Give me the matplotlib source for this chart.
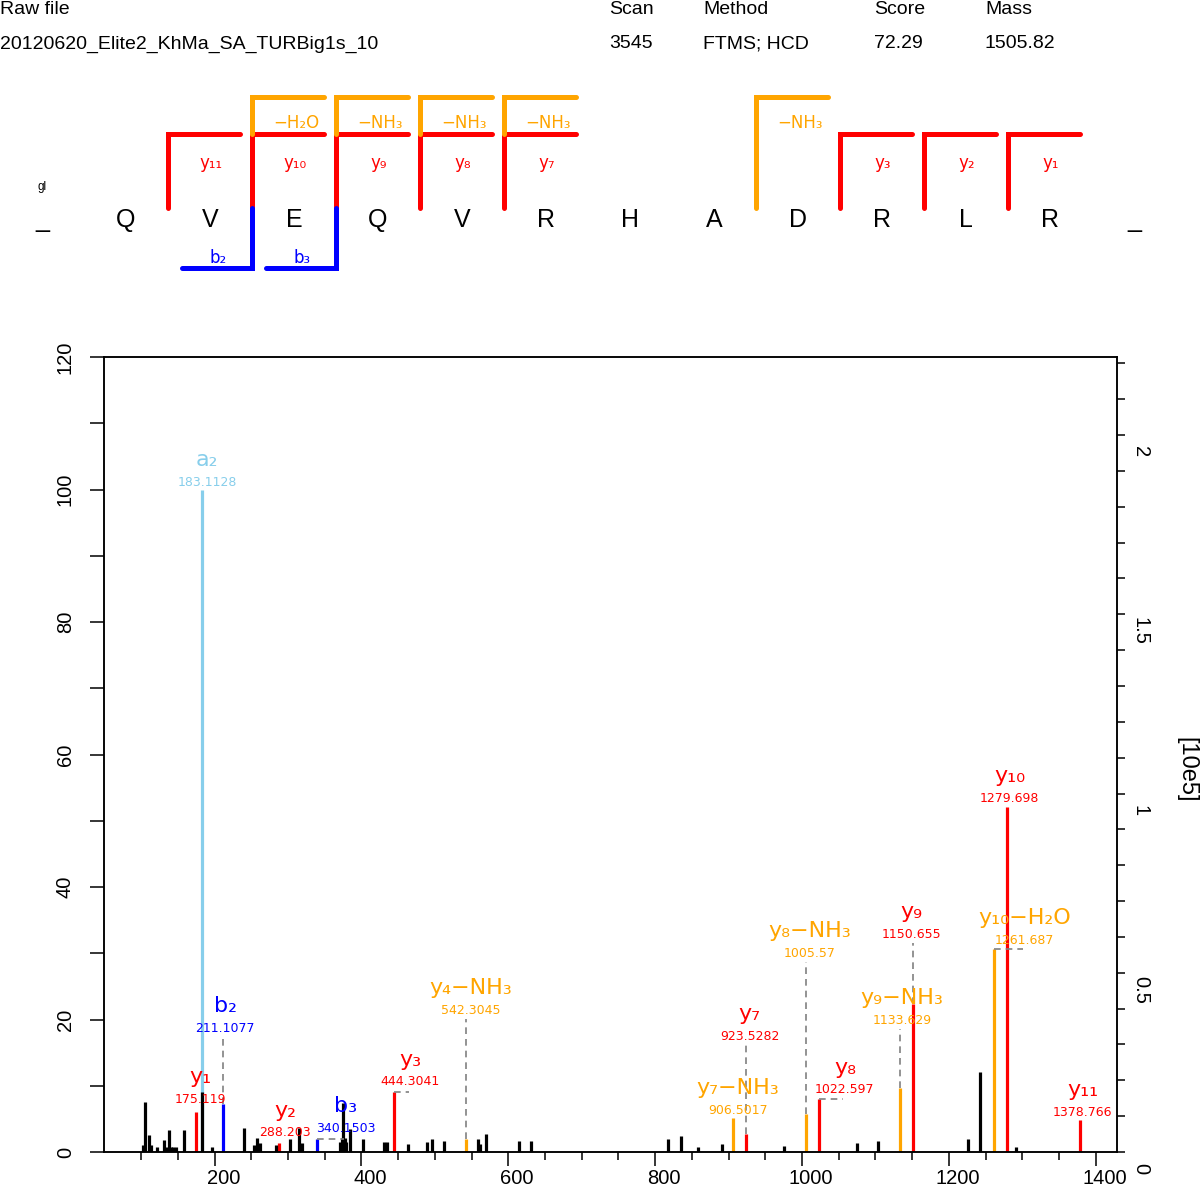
import matplotlib
matplotlib.use("Agg")
import matplotlib.pyplot as plt
from matplotlib.transforms import ScaledTranslation
import numpy as np

# ---------------- data ----------------
header_keys = ["Raw file", "Scan", "Method", "Score", "Mass"]
header_vals = ["20120620_Elite2_KhMa_SA_TURBig1s_10", "3545", "FTMS; HCD", "72.29", "1505.82"]

sequence = ["Q", "V", "E", "Q", "V", "R", "H", "A", "D", "R", "L", "R"]
mod_tag = "gl"

# sequence coverage: cut after residue n (1-based count from N-terminus)
seq_y_names = ["y₁₁", "y₁₀", "y₉", "y₈", "y₇", "y₃", "y₂", "y₁"]
seq_y_cuts = [1, 2, 3, 4, 5, 9, 10, 11]
seq_loss_names = ["−H₂O", "−NH₃", "−NH₃", "−NH₃", "−NH₃"]
seq_loss_cuts = [2, 3, 4, 5, 8]
seq_b_names = ["b₂", "b₃"]
seq_b_cuts = [2, 3]

# annotated peaks (relative intensity, %)
ion_names = ["a₂", "y₁", "b₂", "y₂", "b₃", "y₃", "y₄−NH₃", "y₇−NH₃", "y₇",
             "y₈−NH₃", "y₈", "y₉−NH₃", "y₉", "y₁₀−H₂O", "y₁₀", "y₁₁"]
ion_types = ["a", "y", "b", "y", "b", "y", "loss", "loss", "y",
             "loss", "y", "loss", "y", "loss", "y", "y"]
ion_mz = [183.1128, 175.119, 211.1077, 288.203, 340.1503, 444.3041, 542.3045, 906.5017,
          923.5282, 1005.57, 1022.597, 1133.629, 1150.655, 1261.687, 1279.698, 1378.766]
ion_int = [100.0, 6.1, 7.2, 1.4, 2.0, 9.1, 2.0, 5.2,
           2.7, 5.8, 8.0, 9.7, 22.4, 30.6, 52.1, 4.8]

# unannotated peaks
other_mz = [102.2, 105.4, 111.3, 113.6, 122.0, 131.5, 134.9, 138.5, 141.0, 144.0, 147.0,
            158.5, 183.6, 196.0, 240.0, 253.8, 258.3, 262.0, 283.7, 302.8, 315.5, 318.7,
            371.5, 373.5, 375.4, 377.5, 379.5, 384.5, 401.7, 431.0, 434.5, 463.9, 489.7,
            496.6, 512.9, 558.3, 561.0, 569.6, 615.0, 630.9, 817.9, 835.1, 857.9, 890.5,
            975.8, 1075.0, 1103.8, 1226.3, 1242.0, 1291.0]
other_int = [1.0, 7.6, 2.6, 1.0, 0.7, 1.8, 0.8, 3.3, 0.8, 0.8, 0.8,
             3.3, 9.1, 0.8, 3.6, 1.1, 2.1, 1.3, 1.1, 1.9, 3.6, 1.4,
             1.5, 2.1, 7.4, 2.1, 1.5, 3.4, 1.9, 1.5, 1.5, 1.2, 1.5,
             1.9, 1.6, 1.9, 1.2, 2.7, 1.6, 1.6, 2.0, 2.4, 0.8, 1.2,
             0.9, 1.3, 1.6, 1.9, 12.1, 0.8]

# right axis: absolute intensity [10e5] per 100 % relative
base_peak_abs = 1.848

# ---------------- layout / style ----------------
W, H = 1200, 1190
colors = {"a": "#87CEEB", "b": "#0000FF", "y": "#FF0000", "loss": "#FFA500"}
# label anchor (x in m/z, y in % for the m/z text centre) and connector kind
label_pos = [(189.8, 101.1), (180.3, 7.9), (214.3, 18.7), (296.0, 2.9), (379.0, 3.6),
             (466.2, 10.6), (549.2, 21.4), (912.7, 6.3), (929.0, 17.5), (1010.7, 30.0),
             (1058.4, 9.4), (1136.0, 19.9), (1149.6, 32.8), (1303.5, 32.0), (1283.0, 53.4),
             (1382.0, 6.0)]
connector = ["", "", "v", "", "h", "h", "v", "", "v", "v", "h", "v", "v", "h", "", ""]

SANS = ["Liberation Sans", "DejaVu Sans"]
DJ = ["DejaVu Sans"]

fig = plt.figure(figsize=(W / 100, H / 100), dpi=100)

# overlay axes in pixel coordinates for header + sequence
ov = fig.add_axes([0, 0, 1, 1], zorder=0)
ov.set_xlim(0, W)
ov.set_ylim(H, 0)
ov.axis("off")

hx = [0, 609, 703, 874, 985]
for x, k, v in zip(hx, header_keys, header_vals):
    ov.text(x, 9, k, ha="left", va="center", fontsize=14, family=SANS)
    ov.text(x, 44, v, ha="left", va="center", fontsize=14, family=SANS)

letters = ["_"] + sequence + ["_"]
for i, s in enumerate(letters):
    ov.text(42 + 84 * i, 220, s, ha="center", va="center", fontsize=18, family=SANS)
ov.text(42, 187, mod_tag, ha="center", va="center", fontsize=8.5, family=SANS)

lwb = 3.6
y_top, l_top, v_bot, b_bot = 134, 97, 208, 268
for name, c in zip(seq_y_names, seq_y_cuts):
    bx = 84 * (c + 1)
    ov.plot([bx, bx, bx + 72], [v_bot, y_top, y_top], color=colors["y"], lw=lwb,
            solid_capstyle="round", solid_joinstyle="miter")
    ov.text(bx + 43, 163, name, ha="center", va="center", fontsize=12, color=colors["y"], family=DJ)
for name, c in zip(seq_loss_names, seq_loss_cuts):
    bx = 84 * (c + 1)
    start = y_top if c in seq_y_cuts else v_bot
    ov.plot([bx, bx, bx + 72], [start, l_top, l_top], color=colors["loss"], lw=lwb,
            solid_capstyle="round", solid_joinstyle="miter")
    ov.text(bx + 44, 123, name, ha="center", va="center", fontsize=12, color=colors["loss"], family=DJ)
for name, c in zip(seq_b_names, seq_b_cuts):
    bx = 84 * (c + 1)
    ov.plot([bx, bx, bx - 70], [v_bot, b_bot, b_bot], color=colors["b"], lw=lwb,
            solid_capstyle="round", solid_joinstyle="miter")
    ov.text(bx - 34, 258, name, ha="center", va="center", fontsize=12, color=colors["b"], family=DJ)

ov.text(1186, 770, "[10e5]", ha="center", va="center", rotation=-90, fontsize=17, family=SANS)

# ---------------- spectrum ----------------
ax = fig.add_axes([104 / W, 38 / H, (1117 - 104) / W, (1152 - 357) / H], zorder=2)
ax.patch.set_alpha(0)
ax.set_xlim(49.5, 1429)
ax.set_ylim(0, 120)

ax.vlines(ion_mz, 0, ion_int, colors=[colors[t] for t in ion_types], lw=2.3)
ax.vlines(other_mz, 0, other_int, colors="black", lw=2.3)

dash = dict(color="#808080", lw=1.2, linestyle=(0, (4, 3)))
for name, t, mz, it, (lx, ly), con in zip(ion_names, ion_types, ion_mz, ion_int,
                                          label_pos, connector):
    c = colors[t]
    if con == "h":
        ax.plot([mz, lx - 2], [it, it], **dash)
    elif con == "v":
        ax.plot([mz, mz], [it, ly - 1.3], **dash)
    ax.text(lx, ly, "%.7g" % mz, ha="center", va="center", fontsize=9, color=c, family=DJ)
    ax.annotate(name, (lx, ly), xytext=(0, 16), textcoords="offset points",
                ha="center", va="center", fontsize=16, color=c, family=DJ)

ax.set_xticks(np.arange(200, 1401, 200))
ax.set_xticks(np.arange(100, 1401, 50), minor=True)
ax.set_yticks(np.arange(0, 121, 20))
ax.set_yticks(np.arange(0, 121, 10), minor=True)
ax.tick_params(axis="x", which="major", length=10, width=1.1, pad=2, labelsize=14.5)
ax.tick_params(axis="x", which="minor", length=5.5, width=1.1)
ax.tick_params(axis="y", which="both", length=10, width=1.1, pad=11, labelsize=14.5)
ax.tick_params(axis="y", which="major", labelrotation=90)
for lbl in ax.get_yticklabels():
    lbl.set_va("center")
for lbl in ax.get_xticklabels() + ax.get_yticklabels():
    lbl.set_family(SANS)
for sp in ax.spines.values():
    sp.set_linewidth(1.1)

ax2 = ax.twinx()
ax2.set_ylim(0, 120 * base_peak_abs / 100)
ax2.set_yticks([0, 0.5, 1, 1.5, 2])
ax2.set_yticklabels(["0", "0.5", "1", "1.5", "2"])
ax2.set_yticks(np.arange(0, 2.21, 0.1), minor=True)
ax2.tick_params(axis="y", which="both", length=6, width=1.1, pad=4, labelsize=14.5,
                labelrotation=-90)
for lbl in ax2.get_yticklabels():
    lbl.set_va("center")
    lbl.set_ha("left")
    lbl.set_family(SANS)
for sp in ax2.spines.values():
    sp.set_linewidth(1.1)

fig.canvas.draw()
for lbl in ax.get_xticklabels():
    lbl.set_transform(lbl.get_transform() + ScaledTranslation(9 / 100, 0, fig.dpi_scale_trans))
for lbl in ax2.get_yticklabels():
    lbl.set_transform(lbl.get_transform() + ScaledTranslation(0, -17 / 100, fig.dpi_scale_trans))

fig.savefig("out.png", dpi=100)
